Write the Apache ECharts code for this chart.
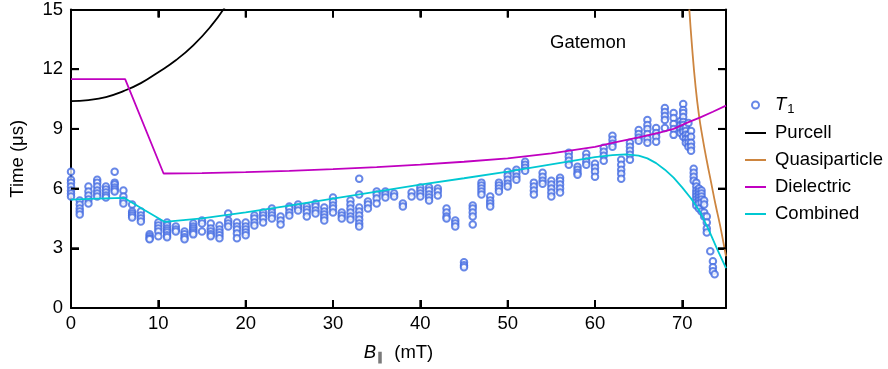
<!DOCTYPE html>
<html>
<head>
<meta charset="utf-8">
<script src="https://cdn.jsdelivr.net/npm/echarts@6/dist/echarts.min.js"></script>
<style>html,body{margin:0;padding:0;background:#fff}#c{width:888px;height:369px}</style>
</head>
<body>
<div id="c"></div>
<script>
// ---- data ----
const xTicks = [0, 10, 20, 30, 40, 50, 60, 70];
const yTicks = [0, 3, 6, 9, 12, 15];

const t1Field = [0,1,2,3,4,5,6,7,8,9,10,11,12,13,14,15,16,17,18,19,20,
  21,22,23,24,25,26,27,28,29,30,31,32,33,34,35,36,37,38,39,40,
  41,42,43,44,45,46,47,48,49,50,51,52,53,54,55,56,57,58,59,60,
  61,62,63,64,65,66,67,68,69,69.8,70.1,70.4,70.7,71.0,71.3,71.6,71.9,72.2,72.5,72.8,73.2,73.5,73.7];
const t1Time = [
  [6.85,6.45,6.3,6.1,5.9,5.75,5.6],
  [5.4,5.2,5.0,4.85,4.7],
  [6.1,5.85,5.65,5.45,5.25],
  [6.45,6.3,6.1,5.9,5.75,5.6],
  [6.1,5.95,5.8,5.65,5.55],
  [6.85,6.3,6.2,6.05,5.95,5.85],
  [5.9,5.6,5.4,5.25],
  [5.2,4.85,4.75,4.65,4.55],
  [4.85,4.65,4.5,4.35],
  [3.7,3.6,3.5,3.45],
  [4.3,4.15,4.0,3.85,3.6],
  [4.3,4.15,4.0,3.9,3.8,3.65,3.55],
  [4.1,3.95,3.85],
  [3.85,3.7,3.55,3.45],
  [4.25,4.1,4.0,3.9,3.8,3.7],
  [4.4,4.25,3.85],
  [4.25,4.0,3.85,3.7,3.6],
  [4.15,3.95,3.8,3.65,3.5],
  [4.75,4.4,4.25,4.1],
  [4.3,4.1,3.95,3.75,3.5],
  [4.3,4.1,3.95,3.8,3.65],
  [4.65,4.5,4.3,4.15],
  [4.8,4.65,4.5,4.3],
  [5.0,4.8,4.65,4.5],
  [4.6,4.4,4.2],
  [5.1,5.0,4.8,4.65],
  [5.2,5.05,4.9],
  [5.1,4.95,4.8,4.6],
  [5.25,5.1,4.9,4.75],
  [5.05,4.85,4.7,4.55,4.4],
  [5.55,5.35,5.15,5.0,4.8],
  [4.8,4.65,4.5],
  [5.4,5.2,5.0,4.8,4.6,4.45],
  [6.5,5.7,5.05,4.85,4.65,4.45,4.25,4.1],
  [5.35,5.2,5.0],
  [5.85,5.7,5.5,5.25],
  [5.85,5.7,5.55],
  [5.75,5.6],
  [5.25,5.1],
  [5.8,5.6],
  [6.05,5.9,5.75,5.6],
  [6.05,5.9,5.7,5.55,5.4],
  [6.0,5.85,5.65],
  [5.0,4.8,4.6,4.5],
  [4.4,4.25,4.1],
  [2.3,2.15,2.05],
  [5.15,5.0,4.8,4.6,4.2],
  [6.3,6.15,6.0,5.85,5.7],
  [5.6,5.4,5.25,5.1],
  [6.3,6.15,6.0,5.85],
  [6.85,6.65,6.45,6.25,6.1],
  [6.95,6.8,6.6,6.45],
  [7.35,7.2,7.05,6.9],
  [6.3,6.1,5.9,5.7],
  [6.8,6.6,6.4,6.25],
  [6.4,6.2,6.0,5.8,5.6],
  [6.55,6.4,6.2,6.0,5.8],
  [7.8,7.6,7.4,7.2],
  [7.1,6.95,6.8,6.7],
  [7.75,7.55,7.35,7.2],
  [7.25,7.05,6.85,6.6],
  [8.05,7.85,7.65,7.4],
  [8.65,8.45,8.25,8.1],
  [7.45,7.2,6.95,6.75,6.5],
  [8.3,8.1,7.9,7.7,7.45],
  [8.95,8.75,8.55,8.4],
  [9.45,9.2,9.0,8.75,8.5,8.3],
  [9.05,8.8,8.6,8.35],
  [10.05,9.85,9.65,9.45,9.05],
  [9.8,9.55,9.25,9.0,8.7],
  [9.4,9.2,9.0,8.8],
  [10.25,9.95,9.8,9.6,9.35,9.2,9.0,8.85,8.6],
  [9.1,8.9,8.7,8.5,8.3],
  [9.3,8.7,8.5,8.3,8.1],
  [8.9,8.6,8.3,8.1,7.9],
  [7.0,6.8,6.6,6.4],
  [6.3,6.1,5.9,5.75,5.6,5.45,5.3,5.15],
  [6.0,5.85,5.7,5.55,5.4,5.25,5.0],
  [5.9,5.75,5.6,5.45,5.3,4.85],
  [5.4,5.2,4.8,4.6],
  [4.6,4.3,4.0,3.8],
  [2.85],
  [2.35,2.05,1.85],
  [1.7]
];

const purcellB = [0, 2, 4, 6, 8, 10, 12, 14, 16, 17.6];
const purcellT = [10.4, 10.45, 10.6, 10.9, 11.3, 11.85, 12.45, 13.2, 14.15, 15.1];

const quasiB = [70.8, 71.1, 71.5, 71.9, 72.3, 72.8, 73.3, 73.8, 74.3, 74.7, 75];
const quasiT = [15.0, 13.2, 11.2, 9.7, 8.6, 7.4, 6.3, 5.2, 4.2, 3.3, 2.6];

const dielB = [0, 6.2, 10.6, 15, 20, 25, 30, 35, 40, 45, 50, 55, 60, 62, 65, 67.5, 69, 70.5, 72, 73.5, 75];
const dielT = [11.5, 11.5, 6.76, 6.78, 6.83, 6.89, 6.98, 7.08, 7.2, 7.35, 7.52, 7.77, 8.1, 8.3, 8.58, 8.82, 9.0, 9.3, 9.57, 9.86, 10.17];

const combB = [0, 3, 6.1, 8.5, 10.7, 15, 20, 25, 30, 35, 40, 45, 50, 55, 60, 62, 63.5, 65, 66, 67, 68, 69, 70, 71, 72, 73, 74, 75];
const combT = [5.45, 5.5, 5.53, 4.9, 4.33, 4.5, 4.8, 5.15, 5.5, 5.85, 6.2, 6.52, 6.85, 7.22, 7.58, 7.68, 7.72, 7.66, 7.52, 7.28, 6.95, 6.55, 6.05, 5.5, 4.85, 3.95, 2.95, 2.0];

// ---- chart ----
const FONT = 'Liberation Sans';
const FS = 18.5;
const X_MAX = 75;
const pairs = (xs, ys) => xs.map((x, i) => [x, ys[i]]);
const t1Data = t1Field.flatMap((b, i) => t1Time[i].map(t => [b, t]));

const chart = echarts.init(document.getElementById('c'), null, {renderer: 'canvas'});

const mkLine = () => ({show: true, onZero: false, lineStyle: {color: '#000', width: 2}});
const mkTick = () => ({show: true, inside: true, length: 8, lineStyle: {color: '#000', width: 2}});
const LINE_ICON = 'path://M0 0H21V2H0Z';

const lineSeries = (name, xs, ys, color, smooth) => ({
  name, type: 'line', data: pairs(xs, ys), symbol: 'none', showSymbol: false, smooth: smooth,
  lineStyle: {color, width: 1.8}, itemStyle: {color}, clip: true, z: 3
});

// inward tick marks on all four sides, placed through the axes' own scales
const tickData = xTicks.slice(1).map(v => [v, 0]).concat(yTicks.slice(1, -1).map(v => [v, 1]));
const TICK_LEN = 8;
const tickStyle = {stroke: '#000', lineWidth: 2};
function renderTick(params, api) {
  const v = api.value(0);
  const kind = api.value(1);
  const yMin = yTicks[0], yMax = yTicks[yTicks.length - 1];
  if (kind === 0) {
    const b = api.coord([v, yMin]);
    const t = api.coord([v, yMax]);
    return {type: 'group', children: [
      {type: 'line', shape: {x1: b[0], y1: b[1], x2: b[0], y2: b[1] - TICK_LEN}, style: tickStyle},
      {type: 'line', shape: {x1: t[0], y1: t[1], x2: t[0], y2: t[1] + TICK_LEN}, style: tickStyle}
    ]};
  }
  const l = api.coord([xTicks[0], v]);
  const r = api.coord([X_MAX, v]);
  return {type: 'group', children: [
    {type: 'line', shape: {x1: l[0], y1: l[1], x2: l[0] + TICK_LEN, y2: l[1]}, style: tickStyle},
    {type: 'line', shape: {x1: r[0], y1: r[1], x2: r[0] - TICK_LEN, y2: r[1]}, style: tickStyle}
  ]};
}

chart.setOption({
  animation: false,
  backgroundColor: '#fff',
  textStyle: {fontFamily: FONT},
  grid: {left: 69, right: 162, top: 9, bottom: 61, containLabel: false},
  xAxis: [{
    type: 'value', min: xTicks[0], max: X_MAX, interval: 10, position: 'bottom',
    axisLine: mkLine(), axisTick: mkTick(), splitLine: {show: false},
    axisLabel: {color: '#000', fontSize: FS, fontFamily: FONT, margin: 6,
      formatter: v => (xTicks.indexOf(v) >= 0 ? String(v) : '')},
    name: '{it|B}{sub|∥} (mT)', nameLocation: 'middle', nameGap: 34,
    nameTextStyle: {color: '#000', fontSize: FS, fontFamily: FONT,
      rich: {it: {fontStyle: 'italic', fontSize: FS, fontFamily: FONT, color: '#000'},
             sub: {fontSize: 12, fontFamily: FONT, color: '#000', padding: [10, 6, 0, 1]}}}
  }, {
    type: 'value', min: xTicks[0], max: X_MAX, interval: 10, position: 'top',
    axisLine: mkLine(), axisTick: mkTick(), axisLabel: {show: false}, splitLine: {show: false}
  }],
  yAxis: [{
    type: 'value', min: yTicks[0], max: yTicks[yTicks.length - 1], interval: 3, position: 'left',
    axisLine: mkLine(), axisTick: mkTick(), splitLine: {show: false},
    axisLabel: {color: '#000', fontSize: FS, fontFamily: FONT, margin: 8},
    name: 'Time (μs)', nameLocation: 'middle', nameGap: 44, nameRotate: 90,
    nameTextStyle: {color: '#000', fontSize: FS, fontFamily: FONT}
  }, {
    type: 'value', min: yTicks[0], max: yTicks[yTicks.length - 1], interval: 3, position: 'right',
    axisLine: mkLine(), axisTick: mkTick(), axisLabel: {show: false}, splitLine: {show: false}
  }],
  legend: {
    orient: 'vertical', left: 740, top: 90, itemWidth: 21, itemHeight: 7, itemGap: 7,
    data: [
      {name: 'T1', icon: 'emptyCircle'},
      {name: 'Purcell', icon: LINE_ICON},
      {name: 'Quasiparticle', icon: LINE_ICON},
      {name: 'Dielectric', icon: LINE_ICON},
      {name: 'Combined', icon: LINE_ICON}
    ],
    formatter: n => n === 'T1' ? '{it|T}{sub|1}' : n,
    textStyle: {color: '#000', fontSize: FS, fontFamily: FONT, padding: [0, 0, 0, 4], lineHeight: 20,
      rich: {it: {fontStyle: 'italic', fontSize: FS, fontFamily: FONT, color: '#000', lineHeight: 20},
             sub: {fontSize: 13, fontFamily: FONT, color: '#000', padding: [9, 0, 0, 1]}}}
  },
  graphic: [{
    type: 'text', left: 550, top: 33,
    style: {text: 'Gatemon', fill: '#000', font: FS + 'px "' + FONT + '"'}
  }],
  series: [
    {name: 'T1', type: 'scatter', data: t1Data, symbol: 'emptyCircle', symbolSize: 6.5,
     itemStyle: {color: '#4169e1', borderColor: '#4169e1', borderWidth: 1.3}, z: 2},
    lineSeries('Purcell', purcellB, purcellT, '#000000', true),
    lineSeries('Quasiparticle', quasiB, quasiT, '#cd853f', true),
    lineSeries('Dielectric', dielB, dielT, '#c000c0', false),
    lineSeries('Combined', combB, combT, '#00c8d2', false),
    {name: 'axis-ticks', type: 'custom', data: tickData, renderItem: renderTick,
     clip: false, silent: true, z: 5, encode: {x: 0, y: 1}}
  ]
});
</script>
</body>
</html>
